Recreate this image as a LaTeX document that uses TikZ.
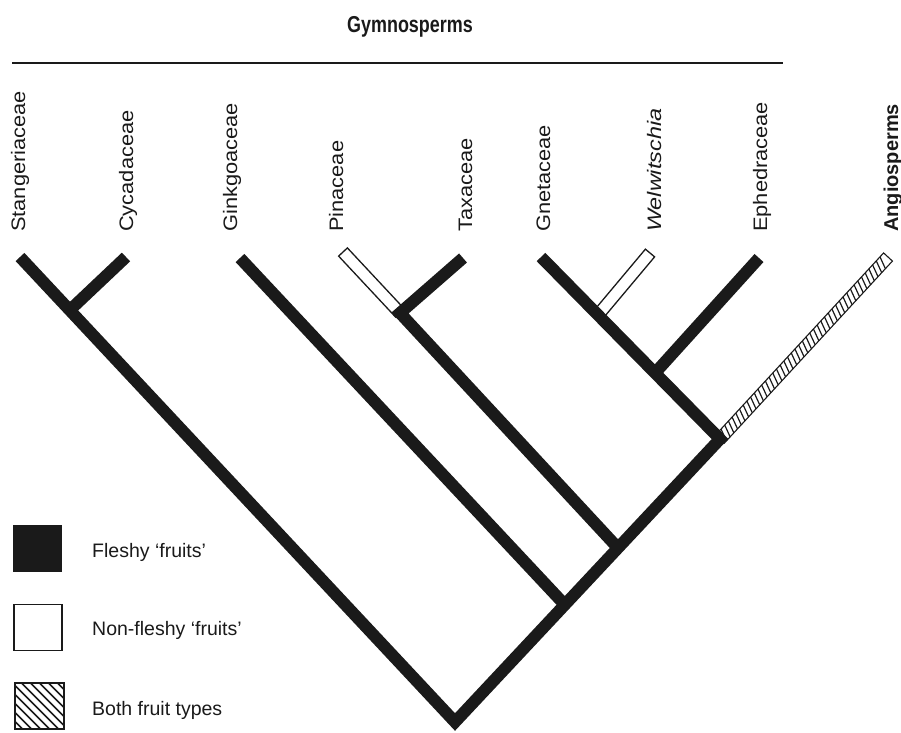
\documentclass[tikz,border=0pt]{standalone}
\usepackage{fontspec}
\setmainfont{Liberation Sans}
\newfontfamily\titlefont[FakeStretch=0.78]{Liberation Sans}
\newfontfamily\lblfont[FakeStretch=1.12]{Liberation Sans}
\newfontfamily\welfont[FakeStretch=1.2]{Liberation Sans}
\usetikzlibrary{calc}
\definecolor{ink}{HTML}{1A1A1A}
\tikzset{
  blackbar/.style={draw=ink, line width=12pt, line cap=butt, line join=miter},
  whitebar/.style={draw=ink, line width=1.3pt, fill=white, line join=miter},
  lbl/.style={rotate=90, anchor=base west, inner sep=0pt, text=ink, font=\lblfont\fontsize{19.5}{20}\selectfont},
  legtext/.style={anchor=west, inner sep=0pt, text=ink, font=\fontsize{19.5}{22}\selectfont},
  legbox/.style={draw=ink, line width=1.3pt, minimum width=48pt, minimum height=46pt, inner sep=0pt},
  rung/.style={draw=ink, line width=1.2pt}
}
\begin{document}
\begin{tikzpicture}[x=1pt,y=-1pt]
\useasboundingbox (0,0) rectangle (901,732);
% title and rule
\node[inner sep=0pt, anchor=base, text=ink, font=\titlefont\bfseries\fontsize{23}{25}\selectfont] (title) at (410,32) {Gymnosperms};
\coordinate (ruleL) at (12,63);
\coordinate (ruleR) at (783,63);
\draw[ink, line width=1.5pt] (ruleL) -- (ruleR);
% taxon labels
\node[lbl] (l1) at (25,232) {Stangeriaceae};
\node[lbl] (l2) at (133,232) {Cycadaceae};
\node[lbl] (l3) at (237,232) {Ginkgoaceae};
\node[lbl] (l4) at (343,232) {Pinaceae};
\node[lbl] (l5) at (472,232) {Taxaceae};
\node[lbl] (l6) at (550,232) {Gnetaceae};
\node[lbl, font=\welfont\itshape\fontsize{19.5}{20}\selectfont] (l7) at (661,232) {Welwitschia};
\node[lbl] (l8) at (767,232) {Ephedraceae};
\node[lbl, font=\bfseries\fontsize{20}{20}\selectfont] (l9) at (898,232) {Angiosperms};
% tree coordinates
\coordinate (stip) at (20,257);
\coordinate (root) at (455,722);
\coordinate (gnode) at (720,439);
\coordinate (gntip) at (541,257);
\coordinate (cnode) at (71,309);
\coordinate (ctip) at (126,257);
\coordinate (kgnode) at (565,605);
\coordinate (kgtip) at (240,258);
\coordinate (ptnode) at (618,548);
\coordinate (pnode) at (400,313);
\coordinate (ptip) at (343,252);
\coordinate (ttip) at (463,258);
\coordinate (enode) at (655,373);
\coordinate (etip) at (759,258);
\coordinate (wnode) at (598,315);
\coordinate (wtip) at (650,253);
\coordinate (atip) at (888,257);
% white (non-fleshy) branches
\draw[whitebar] ($(pnode)!6pt!90:(ptip)$) -- ($(ptip)!6pt!-90:(pnode)$) -- ($(ptip)!6pt!90:(pnode)$) -- ($(pnode)!6pt!-90:(ptip)$) -- cycle;
\draw[whitebar] ($(wnode)!6pt!90:(wtip)$) -- ($(wtip)!6pt!-90:(wnode)$) -- ($(wtip)!6pt!90:(wnode)$) -- ($(wnode)!6pt!-90:(wtip)$) -- cycle;
% hatched angiosperm branch
\begin{scope}[shift={(gnode)}, rotate=47.29]
  \draw[whitebar, line width=1.1pt] (0,-6) rectangle (247.7,6);
  \foreach \s in {5,10.45,...,244} { \draw[rung] (\s+3,-6) -- (\s-2,6); }
\end{scope}
% black (fleshy) branches
\draw[blackbar] (stip) -- (root) -- (gnode) -- (gntip);
\draw[blackbar] (cnode) -- (ctip);
\draw[blackbar] (kgnode) -- (kgtip);
\draw[blackbar] (ptnode) -- (pnode) -- (ttip);
\draw[blackbar] (enode) -- (etip);
% legend
\node[legbox, fill=ink] (lg1) at (37.5,548.5) {};
\node[legbox, fill=white] (lg2) at (38,627.5) {};
\node[legbox, fill=white] (lg3) at (39.5,706) {};
\begin{scope}
  \clip (lg3.south west) rectangle (lg3.north east);
  \foreach \c in {-40,-31,...,45} { \draw[ink, line width=1.6pt] ($(lg3.center)+(\c-30,-30)$) -- ($(lg3.center)+(\c+30,30)$); }
\end{scope}
\draw[ink, line width=1.3pt] (lg3.south west) rectangle (lg3.north east);
\node[legtext] (t1) at (92,552) {Fleshy ‘fruits’};
\node[legtext] (t2) at (92,630) {Non-fleshy ‘fruits’};
\node[legtext] (t3) at (92,710) {Both fruit types};
\end{tikzpicture}
\end{document}
